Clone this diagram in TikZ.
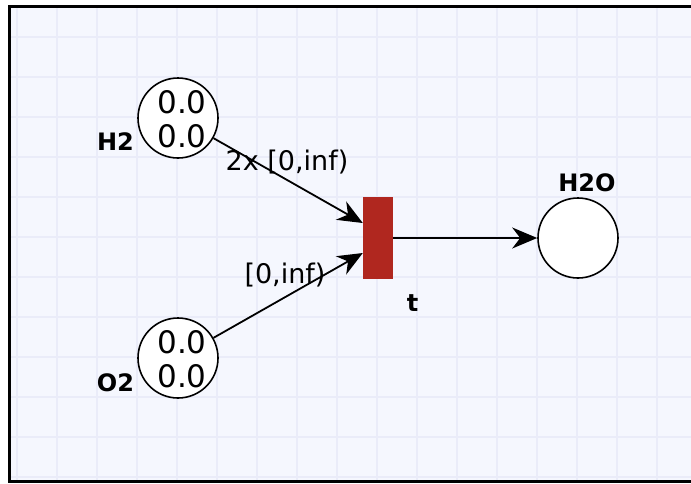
\documentclass[tikz,border=0pt]{standalone}
\usepackage{fontspec}
\setmainfont{DejaVu Sans}
\usetikzlibrary{arrows.meta}
\definecolor{gridback}{HTML}{F5F7FE}
\definecolor{gridline}{HTML}{EAECF9}
\definecolor{transred}{HTML}{B0271F}

\begin{document}
\begin{tikzpicture}[x=1pt,y=-1pt,
  place/.style={draw,circle,fill=white,line width=1.6pt,minimum size=80pt,inner sep=0pt},
  trans/.style={fill=transred,minimum width=30pt,minimum height=82pt,inner sep=0pt},
  arc/.style={line width=1.8pt,-{Stealth[length=25pt,width=21pt,inset=8pt]}},
  pname/.style={font=\fontsize{24}{28}\selectfont\bfseries,anchor=base,inner sep=0pt},
  tokens/.style={font=\fontsize{31}{34}\selectfont,align=center,inner sep=0pt},
  weight/.style={font=\fontsize{27}{30}\selectfont,anchor=base,inner sep=0pt}]
\useasboundingbox (0,0) rectangle (691,483);
\clip (0,0) rectangle (691,483);
% canvas
\fill[gridback] (9.5,6.5) rectangle (691,481.5);
\foreach \gx in {17,57,...,657} \draw[gridline,line width=1.8pt] (\gx,6.5) -- (\gx,481.5);
\foreach \gy in {37,77,...,477} \draw[gridline,line width=1.8pt] (9.5,\gy) -- (691,\gy);
\draw[line width=2.6pt] (700,6.5) -- (9.5,6.5) -- (9.5,481.5) -- (700,481.5);
% places
\node[place] (h2) at (178,118) {};
\node[tokens] (h2tok) at (182,119) {0.0\\0.0};
\node[pname] (h2name) at (115.5,150) {H2};
\node[place] (o2) at (178,358) {};
\node[tokens] (o2tok) at (182,359) {0.0\\0.0};
\node[pname] (o2name) at (115.5,391) {O2};
\node[place] (h2o) at (578,238) {};
\node[pname] (h2oname) at (587,191) {H2O};
% transition
\node[trans] (t) at (378,238) {};
\node[pname] (tname) at (412.5,311) {t};
% arcs
\draw[arc] (h2) -- ([yshift=15pt]t.west);
\draw[arc] (o2) -- ([yshift=-15pt]t.west);
\draw[arc] (t) -- (h2o);
\node[weight] (h2w) at (287,170) {2x [0,inf)};
\node[weight] (o2w) at (285,283) {[0,inf)};
\end{tikzpicture}
\end{document}
